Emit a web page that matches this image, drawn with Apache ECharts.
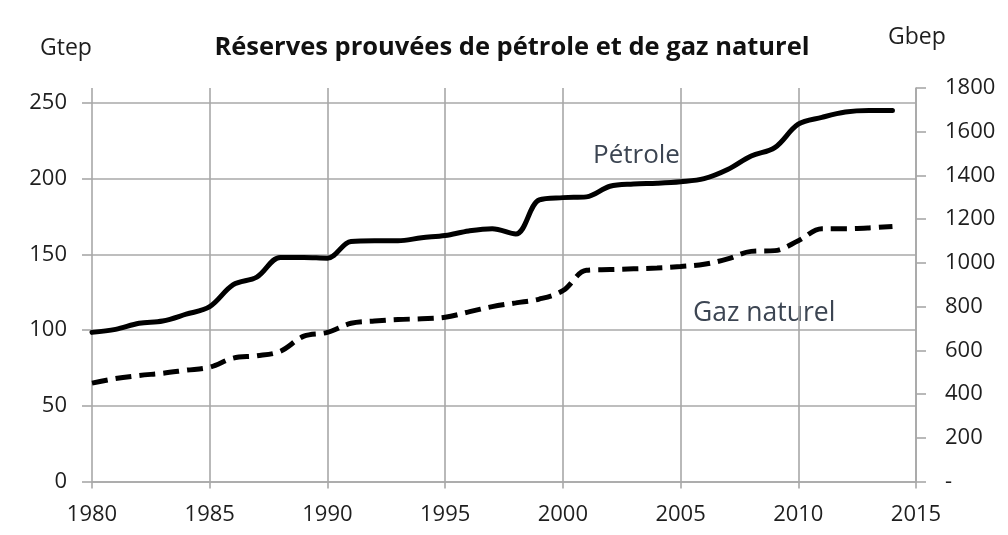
<!DOCTYPE html>
<html>
<head>
<meta charset="utf-8">
<script src="https://cdn.jsdelivr.net/npm/echarts@6/dist/echarts.min.js"></script>
<style>
  html, body { margin: 0; padding: 0; background: #fff; }
  #chart { width: 1008px; height: 535px; }
</style>
</head>
<body>
<div id="chart"></div>
<script>
// Proven reserves, 1980-2014 (Gtep, left axis)
const years = [1980,1981,1982,1983,1984,1985,1986,1987,1988,1989,
               1990,1991,1992,1993,1994,1995,1996,1997,1998,1999,
               2000,2001,2002,2003,2004,2005,2006,2007,2008,2009,
               2010,2011,2012,2013,2014];
const petrole = [98.5,100.5,104.5,106,110.5,115.5,130,135,148,148,
                 147.5,158.5,159,159,161,162.5,165.5,167,163.5,186,
                 187.5,188,195,196.5,197,198,200,206,215,220.5,
                 236,240.5,244,245,245];
const gaz = [65,68,70,71.5,73.5,75.5,81.5,83,86,96,
             98.5,104.5,106,107,107.5,108.5,112,115.5,118,120.5,
             126,139.5,140,140.5,141,142,143.5,147,152,152.5,
             159,167,167,167.5,168.5];

// Axis ranges
const xRange = { min: 1980, max: 2015, step: 5 };
const gtepRange = { min: 0, max: 250, step: 50 };
const gbepRange = { min: 0, max: 1800, step: 200 };

const title = 'Réserves prouvées de pétrole et de gaz naturel';
const leftUnit = 'Gtep';
const rightUnit = 'Gbep';
const oilLabel = 'Pétrole';
const gasLabel = 'Gaz naturel';

const FONT = '"Open Sans", Lato, sans-serif';
const GRID_COLOR = '#a8a8a8';
const TEXT_COLOR = '#1e1e1e';
const TICK_SIZE = 22;

const toPairs = (vals) => years.map((y, i) => [y, vals[i]]);

const chart = echarts.init(document.getElementById('chart'), null, { renderer: 'canvas' });

chart.setOption({
  animation: false,
  backgroundColor: '#fff',
  grid: [
    // outer frame: vertical grid lines and the Gbep axis
    { left: 92, right: 92, top: 88, bottom: 53.5, containLabel: false },
    // inner frame: Gtep axis and the two curves
    { left: 92, right: 92, top: 103, bottom: 53.5, containLabel: false }
  ],
  xAxis: [
    {
      type: 'value', gridIndex: 0,
      min: xRange.min, max: xRange.max, interval: xRange.step,
      axisLine: { show: true, lineStyle: { color: GRID_COLOR, width: 1.6 } },
      axisTick: { show: true, length: 7, lineStyle: { color: GRID_COLOR, width: 1.6 } },
      splitLine: { show: true, lineStyle: { color: GRID_COLOR, width: 1.6 } },
      axisLabel: { margin: 22, color: TEXT_COLOR, fontFamily: FONT, fontSize: TICK_SIZE, formatter: v => String(v) }
    },
    {
      type: 'value', gridIndex: 1,
      min: xRange.min, max: xRange.max, interval: xRange.step,
      show: false
    }
  ],
  yAxis: [
    {
      type: 'value', gridIndex: 0, position: 'right',
      min: gbepRange.min, max: gbepRange.max, interval: gbepRange.step,
      axisLine: { show: true, lineStyle: { color: GRID_COLOR, width: 1.6 } },
      axisTick: { show: true, inside: false, length: 10, lineStyle: { color: GRID_COLOR, width: 1.6 } },
      splitLine: { show: false },
      axisLabel: {
        margin: 29, align: 'left', color: TEXT_COLOR, fontFamily: FONT, fontSize: TICK_SIZE,
        formatter: v => (v === 0 ? '-' : String(v))
      }
    },
    {
      type: 'value', gridIndex: 1, position: 'left',
      min: gtepRange.min, max: gtepRange.max, interval: gtepRange.step,
      axisLine: { show: false },
      axisTick: { show: true, inside: false, length: 10, lineStyle: { color: GRID_COLOR, width: 1.6 } },
      splitLine: { show: true, lineStyle: { color: GRID_COLOR, width: 1.6 } },
      axisLabel: { margin: 25, color: TEXT_COLOR, fontFamily: FONT, fontSize: TICK_SIZE }
    }
  ],
  series: [
    {
      name: oilLabel, type: 'line', xAxisIndex: 1, yAxisIndex: 1,
      data: toPairs(petrole), smooth: 0.35, showSymbol: false, z: 5,
      lineStyle: { color: '#000', width: 5, cap: 'round', join: 'round' }
    },
    {
      name: gasLabel, type: 'line', xAxisIndex: 1, yAxisIndex: 1,
      data: toPairs(gaz), smooth: 0.35, showSymbol: false, z: 5,
      lineStyle: { color: '#000', width: 5, type: [16, 8] }
    }
  ],
  graphic: [
    { type: 'text', x: 512, y: 48,
      style: { text: title, font: 'bold 25.5px ' + FONT, fill: '#111', align: 'center', verticalAlign: 'middle' } },
    { type: 'text', x: 40, y: 48,
      style: { text: leftUnit, font: '23px ' + FONT, fill: TEXT_COLOR, verticalAlign: 'middle' } },
    { type: 'text', x: 888, y: 37,
      style: { text: rightUnit, font: '23px ' + FONT, fill: TEXT_COLOR, verticalAlign: 'middle' } },
    { type: 'text', x: 593, y: 156,
      style: { text: oilLabel, font: '26px ' + FONT, fill: '#3c4552', verticalAlign: 'middle' } },
    { type: 'text', x: 693, y: 313,
      style: { text: gasLabel, font: '26.5px ' + FONT, fill: '#3c4552', verticalAlign: 'middle' } }
  ]
});
</script>
</body>
</html>
